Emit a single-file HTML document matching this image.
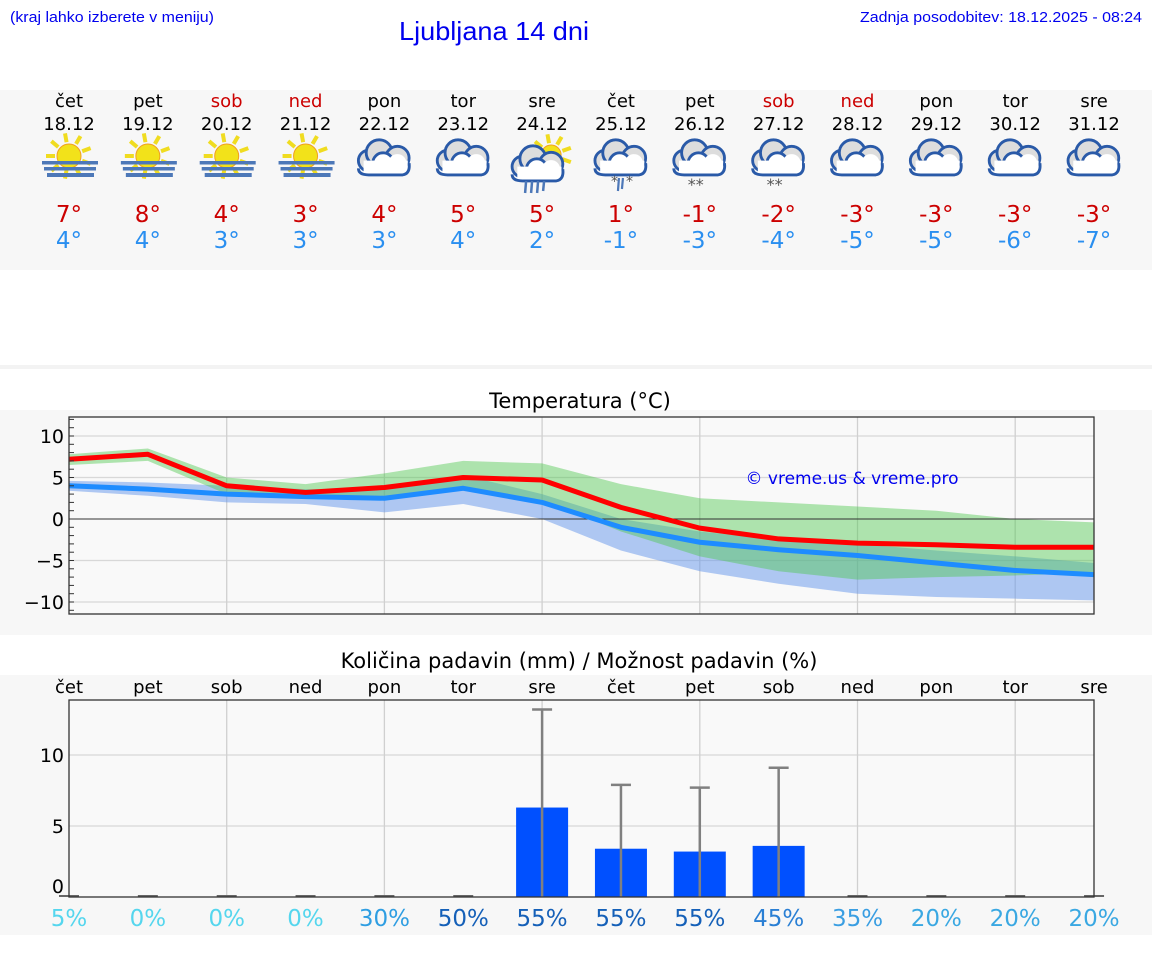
<!DOCTYPE html>
<html><head><meta charset="utf-8">
<style>
html,body{margin:0;padding:0;background:#fff;width:1152px;height:975px;overflow:hidden}
svg{display:block}
</style></head><body>
<svg id="s" width="1152" height="975" xmlns="http://www.w3.org/2000/svg" font-family="DejaVu Sans, sans-serif">
<rect x="0" y="90" width="1152" height="180" fill="#f7f7f7"/>
<rect x="0" y="365" width="1152" height="4" fill="#f3f3f3"/>
<rect x="0" y="410" width="1152" height="225" fill="#f7f7f7"/>
<rect x="0" y="675" width="1152" height="260" fill="#f7f7f7"/>
<text x="10" y="22" font-family="Liberation Sans, sans-serif" font-size="15" fill="#0000ee" textLength="204" lengthAdjust="spacingAndGlyphs">(kraj lahko izberete v meniju)</text>
<text x="399" y="40" font-family="Liberation Sans, sans-serif" font-size="26" fill="#0000ee" textLength="190" lengthAdjust="spacingAndGlyphs">Ljubljana 14 dni</text>
<text x="1142" y="22" text-anchor="end" font-family="Liberation Sans, sans-serif" font-size="15" fill="#0000ee" textLength="282" lengthAdjust="spacingAndGlyphs">Zadnja posodobitev: 18.12.2025 - 08:24</text>
<text x="580" y="408" text-anchor="middle" font-size="21" fill="#000">Temperatura (°C)</text>
<text x="579" y="668" text-anchor="middle" font-size="21" fill="#000">Količina padavin (mm) / Možnost padavin (%)</text>
<g id="g"></g>
</svg>
<script>
const g=document.getElementById('g');let h='';
const X=i=>69+i*78.85;
const days=['čet','pet','sob','ned','pon','tor','sre','čet','pet','sob','ned','pon','tor','sre'];
const dates=['18.12','19.12','20.12','21.12','22.12','23.12','24.12','25.12','26.12','27.12','28.12','29.12','30.12','31.12'];
const wk=[0,0,1,1,0,0,0,0,0,1,1,0,0,0];
const hi=[7,8,4,3,4,5,5,1,-1,-2,-3,-3,-3,-3],lo=[4,4,3,3,3,4,2,-1,-3,-4,-5,-5,-6,-7];
const icons=['fog','fog','fog','fog','c','c','sr','cs','s','s','c','c','c','c'];
function sun(cx,cy,r){let s='';for(let a=-20;a<340;a+=40){const t=a*Math.PI/180;s+=`<line x1="${cx+Math.cos(t)*(r+2)}" y1="${cy+Math.sin(t)*(r+2)}" x2="${cx+Math.cos(t)*(r+11)}" y2="${cy+Math.sin(t)*(r+11)}" stroke="#f0dc20" stroke-width="4"/>`}
return s+`<circle cx="${cx}" cy="${cy}" r="${r}" fill="#f2e21a" stroke="#f0a020" stroke-width="1"/>`}
function cloud(cx,cy){return `<g transform="translate(${cx},${cy}) scale(1.3) translate(${-cx},${-cy})"><g stroke="#2a5aa8" stroke-width="2.2" fill="#ddd"><circle cx="${cx-12}" cy="${cy+2}" r="8"/><circle cx="${cx-4}" cy="${cy-4}" r="10"/><circle cx="${cx+10}" cy="${cy}" r="9"/></g><g fill="#fff"><circle cx="${cx-1}" cy="${cy+4}" r="8" stroke="#2a5aa8" stroke-width="2.2"/><circle cx="${cx+10}" cy="${cy+4}" r="7"/><rect x="${cx-16}" y="${cy+2}" width="34" height="10" fill="#fff"/></g><path d="M${cx-20} ${cy+8} Q${cx-20} ${cy+13} ${cx-12} ${cy+13} L${cx+14} ${cy+13} Q${cx+20} ${cy+12} ${cx+19} ${cy+4}" stroke="#2a5aa8" stroke-width="2.2" fill="none"/></g>`}
for(let i=0;i<14;i++){const x=X(i);
h+=`<text x="${x}" y="107" text-anchor="middle" font-size="18" fill="${wk[i]?'#cc0000':'#000'}">${days[i]}</text>`;
h+=`<text x="${x}" y="130" text-anchor="middle" font-size="18" fill="#000">${dates[i]}</text>`;
h+=`<text x="${x}" y="222" text-anchor="middle" font-size="23" fill="#cc0000">${hi[i]<0?'-'+(-hi[i]):hi[i]}°</text>`;
h+=`<text x="${x}" y="248" text-anchor="middle" font-size="23" fill="#2a8ff0">${lo[i]<0?'-'+(-lo[i]):lo[i]}°</text>`;
const t=icons[i];
if(t=='fog'){h+=sun(x,156,12)+`<g fill="#4d78b8"><rect x="${x-27}" y="161" width="56" height="3.5"/><rect x="${x-25}" y="167" width="52" height="3.5"/><rect x="${x-22}" y="173" width="47" height="4"/></g>`}
else if(t=='c'){h+=cloud(x,158)}
else if(t=='sr'){h+=sun(x+9,155,10)+cloud(x-4,164)+`<g stroke="#4d78b8" stroke-width="2.5"><line x1="${x-16}" y1="181" x2="${x-17}" y2="193"/><line x1="${x-10}" y1="181" x2="${x-11}" y2="193"/><line x1="${x-4}" y1="181" x2="${x-5}" y2="193"/><line x1="${x+2}" y1="181" x2="${x+1}" y2="191"/></g>`}
else{h+=cloud(x,158);if(t=='cs')h+=`<g stroke="#4d78b8" stroke-width="2.2"><line x1="${x-2}" y1="178" x2="${x-3}" y2="191"/><line x1="${x+2}" y1="178" x2="${x+1}" y2="189"/></g><text x="${x-10}" y="186" font-size="14" fill="#555">*</text><text x="${x+5}" y="186" font-size="14" fill="#555">*</text>`;
else h+=`<text x="${x-12}" y="190" font-size="16" fill="#555">**</text>`}
}
const Y=v=>519-v*8.3;
h+=`<rect x="69" y="417" width="1025" height="197" fill="#f9f9f9"/>`;
for(const v of [10,5,-5,-10])h+=`<line x1="69" x2="1094" y1="${Y(v)}" y2="${Y(v)}" stroke="#d8d8d8" stroke-width="1.3"/>`;
for(let i=2;i<14;i+=2)h+=`<line x1="${X(i)}" x2="${X(i)}" y1="417" y2="614" stroke="#d0d0d0" stroke-width="1.3"/>`;
const red=[7.2,7.8,4,3.2,3.8,5,4.7,1.4,-1.1,-2.4,-2.9,-3.1,-3.4,-3.4];
const blue=[4,3.6,3,2.7,2.5,3.7,2,-1,-2.8,-3.7,-4.4,-5.3,-6.2,-6.7];
const gT=[7.8,8.5,5,4.2,5.5,7,6.7,4.2,2.5,2,1.5,1,0,-0.4];
const gB=[6.5,7,3,2.5,2.5,3.5,2.3,-1.5,-4.5,-6.3,-7.3,-7,-6.8,-6.5];
const bT=[4.6,4.4,4,3.6,3.6,5.3,3,0,-1.5,-2.5,-3,-3.8,-4.5,-5.3];
const bB=[3.4,2.8,2,1.8,0.8,1.8,0,-3.8,-6.3,-7.8,-9,-9.4,-9.6,-9.8];
const band=(t,b,c)=>{let p='M';for(let i=0;i<14;i++)p+=`${X(i)} ${Y(t[i])} L`;for(let i=13;i>=0;i--)p+=`${X(i)} ${Y(b[i])} ${i?'L':'Z'}`;return `<path d="${p}" fill="${c}"/>`};
const line=(a,c)=>`<polyline points="${a.map((v,i)=>X(i)+','+Y(v)).join(' ')}" fill="none" stroke="${c}" stroke-width="5" stroke-linejoin="round"/>`;
h+=band(bT,bB,'rgba(100,150,235,0.5)')+band(gT,gB,'rgba(80,200,80,0.45)');
h+=`<line x1="69" x2="1094" y1="519" y2="519" stroke="#333" stroke-width="1"/>`;
h+=line(blue,'#1e8cff')+line(red,'#ff0000');
h+=`<rect x="69" y="417" width="1025" height="197" fill="none" stroke="#333" stroke-width="1.3"/>`;
for(let v=-11;v<=12;v++)h+=`<line x1="69" x2="74" y1="${Y(v)}" y2="${Y(v)}" stroke="#333"/>`;
for(const v of [10,5,0,-5,-10])h+=`<text x="64" y="${Y(v)+7}" text-anchor="end" font-size="19" fill="#000">${v<0?'−'+(-v):v}</text>`;
h+=`<text x="852" y="484" text-anchor="middle" font-size="17" fill="#0000ee">© vreme.us &amp; vreme.pro</text>`;
const P=v=>897-v*14.2;
h+=`<rect x="69" y="700" width="1025" height="197" fill="#f9f9f9"/>`;
for(const v of [5,10])h+=`<line x1="69" x2="1094" y1="${P(v)}" y2="${P(v)}" stroke="#d8d8d8" stroke-width="1.3"/>`;
for(let i=2;i<14;i+=2)h+=`<line x1="${X(i)}" x2="${X(i)}" y1="700" y2="897" stroke="#d0d0d0" stroke-width="1.3"/>`;
const bars={6:[6.3,13.2],7:[3.4,7.9],8:[3.2,7.7],9:[3.6,9.1]};
for(let i=0;i<14;i++){const x=X(i);
h+=`<text x="${x}" y="693" text-anchor="middle" font-size="18" fill="#000">${days[i]}</text>`;
if(bars[i]){const[b,e]=bars[i];h+=`<rect x="${x-26}" y="${P(b)}" width="52" height="${897-P(b)}" fill="#0050ff"/><line x1="${x}" x2="${x}" y1="${P(e)}" y2="897" stroke="#808080" stroke-width="2.5"/><line x1="${x-10}" x2="${x+10}" y1="${P(e)}" y2="${P(e)}" stroke="#808080" stroke-width="2.5"/>`}
else h+=`<line x1="${x-10}" x2="${x+10}" y1="896" y2="896" stroke="#666" stroke-width="2"/>`;}
h+=`<rect x="69" y="700" width="1025" height="197" fill="none" stroke="#333" stroke-width="1.3"/>`;
for(const v of [10,5])h+=`<text x="64" y="${P(v)+7}" text-anchor="end" font-size="19" fill="#000">${v}</text>`;
h+=`<text x="64" y="893" text-anchor="end" font-size="19" fill="#000">0</text>`;
const pc=[5,0,0,0,30,50,55,55,55,45,35,20,20,20];
const pcol=['#55d6ee','#55d6ee','#55d6ee','#55d6ee','#2f9ee2','#1560b8','#1560b8','#1560b8','#1560b8','#2a7fd4','#3a9ee2','#3aa8e2','#3aa8e2','#3aa8e2'];
for(let i=0;i<14;i++)h+=`<text x="${X(i)}" y="926" text-anchor="middle" font-size="23" fill="${pcol[i]}">${pc[i]}%</text>`;
g.innerHTML=h;
</script>
</body></html>
